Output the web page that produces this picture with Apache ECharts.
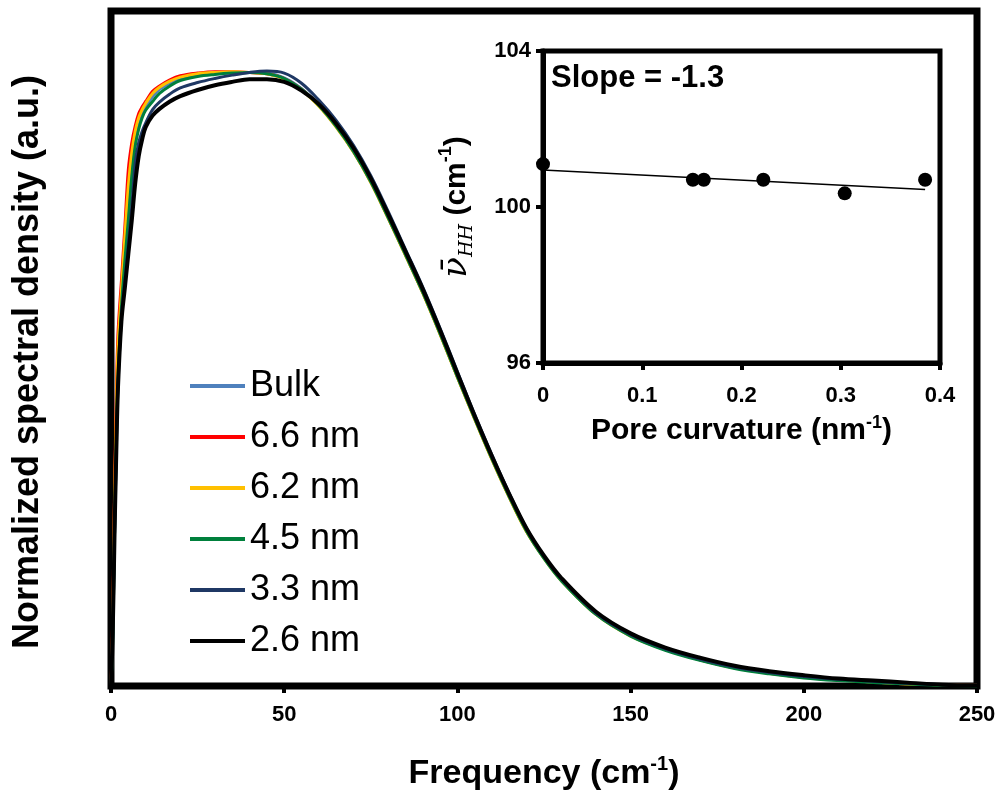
<!DOCTYPE html>
<html>
<head>
<meta charset="utf-8">
<title>Spectral density vs frequency</title>
<script src="https://cdn.jsdelivr.net/npm/echarts@6/dist/echarts.min.js"></script>
<style>
  html, body { margin: 0; padding: 0; background: #fff; }
  #chart { width: 1001px; height: 796px; }
</style>
</head>
<body>
<div id="chart"></div>
<script>
// Frequency grid (cm^-1) shared by all spectra
const FREQ = [0, 0.5, 1, 1.5, 2, 3, 4, 5, 6, 7, 8, 9, 10, 12, 14, 17, 20, 25, 30, 35, 40, 45, 50, 55, 60, 65, 70, 75, 80, 85, 90, 95, 100, 105, 110, 115, 120, 125, 130, 140, 150, 160, 170, 180, 190, 200, 210, 220, 230, 240, 250];

// Normalized spectral density for each system
const BULK = [0, 0.08, 0.25, 0.38, 0.48, 0.575, 0.65, 0.72, 0.775, 0.812, 0.835, 0.848, 0.858, 0.873, 0.884, 0.893, 0.900, 0.906, 0.908, 0.909, 0.909, 0.908, 0.901, 0.885, 0.861, 0.830, 0.793, 0.748, 0.695, 0.640, 0.584, 0.523, 0.459, 0.397, 0.337, 0.281, 0.230, 0.190, 0.157, 0.107, 0.075, 0.054, 0.039, 0.028, 0.020, 0.014, 0.010, 0.007, 0.004, 0.002, 0.001];
const NM66 = [0, 0.10, 0.28, 0.42, 0.52, 0.60, 0.68, 0.765, 0.805, 0.83, 0.848, 0.858, 0.866, 0.881, 0.889, 0.898, 0.904, 0.908, 0.910, 0.910, 0.909, 0.907, 0.900, 0.884, 0.860, 0.829, 0.792, 0.747, 0.694, 0.639, 0.583, 0.522, 0.458, 0.396, 0.336, 0.280, 0.229, 0.190, 0.157, 0.107, 0.075, 0.054, 0.039, 0.027, 0.019, 0.013, 0.009, 0.006, 0.003, 0.002, 0.001];
const NM62 = [0, 0.09, 0.27, 0.40, 0.50, 0.585, 0.665, 0.74, 0.79, 0.822, 0.842, 0.854, 0.863, 0.878, 0.887, 0.896, 0.902, 0.907, 0.909, 0.910, 0.909, 0.907, 0.899, 0.883, 0.859, 0.828, 0.791, 0.746, 0.693, 0.638, 0.582, 0.521, 0.457, 0.395, 0.335, 0.279, 0.228, 0.189, 0.156, 0.106, 0.074, 0.054, 0.039, 0.027, 0.019, 0.013, 0.009, 0.006, 0.003, 0.002, 0.001];
const NM45 = [0, 0.07, 0.22, 0.35, 0.45, 0.56, 0.63, 0.69, 0.755, 0.80, 0.825, 0.842, 0.853, 0.866, 0.878, 0.889, 0.897, 0.903, 0.906, 0.908, 0.909, 0.907, 0.900, 0.884, 0.860, 0.829, 0.792, 0.747, 0.694, 0.639, 0.583, 0.522, 0.458, 0.396, 0.336, 0.280, 0.229, 0.189, 0.156, 0.106, 0.074, 0.053, 0.038, 0.026, 0.018, 0.012, 0.008, 0.005, 0.003, 0.001, 0];
const NM33 = [0, 0.08, 0.22, 0.34, 0.44, 0.545, 0.60, 0.655, 0.71, 0.775, 0.805, 0.822, 0.834, 0.854, 0.865, 0.877, 0.886, 0.894, 0.900, 0.905, 0.909, 0.911, 0.908, 0.893, 0.868, 0.838, 0.801, 0.756, 0.703, 0.647, 0.591, 0.530, 0.466, 0.402, 0.342, 0.285, 0.233, 0.192, 0.159, 0.108, 0.076, 0.055, 0.040, 0.028, 0.020, 0.014, 0.010, 0.007, 0.004, 0.002, 0.001];
const NM26 = [0, 0.08, 0.22, 0.34, 0.44, 0.54, 0.59, 0.64, 0.69, 0.745, 0.785, 0.81, 0.828, 0.845, 0.855, 0.866, 0.874, 0.883, 0.890, 0.895, 0.899, 0.899, 0.895, 0.882, 0.862, 0.833, 0.797, 0.752, 0.699, 0.644, 0.588, 0.527, 0.463, 0.400, 0.340, 0.284, 0.233, 0.193, 0.160, 0.110, 0.078, 0.057, 0.042, 0.030, 0.022, 0.016, 0.011, 0.008, 0.005, 0.002, 0.001];

const SERIES_NAMES = ['Bulk', '6.6 nm', '6.2 nm', '4.5 nm', '3.3 nm', '2.6 nm'];
const SERIES_VALUES = [BULK, NM66, NM62, NM45, NM33, NM26];
const SERIES_COLORS = ['#4F81BD', '#FF0000', '#FFC000', '#00803C', '#1F3864', '#000000'];
const SERIES_WIDTHS = [3, 3, 3, 3, 3, 4];

// Inset: mean H-H frequency against pore curvature
const CURVATURE = [0, 0.151, 0.162, 0.222, 0.304, 0.385];
const NU_HH = [101.1, 100.7, 100.7, 100.7, 100.35, 100.7];
const FIT_SLOPE = -1.3;
const FIT_INTERCEPT = 100.95;

const X_TICKS = [0, 50, 100, 150, 200, 250];
const INSET_Y_TICKS = [96, 100, 104];

const FONT = '"Liberation Sans", Arial, Helvetica, sans-serif';
const SERIF = '"DejaVu Serif", "Liberation Serif", serif';

const zip = (xs, ys) => xs.map((x, i) => [x, ys[i]]);

const spectra = SERIES_NAMES.map((name, i) => ({
  name: name,
  type: 'line',
  xAxisIndex: 0,
  yAxisIndex: 0,
  data: zip(FREQ, SERIES_VALUES[i]),
  showSymbol: false,
  symbol: 'none',
  smooth: 0.35,
  color: SERIES_COLORS[i],
  lineStyle: { color: SERIES_COLORS[i], width: SERIES_WIDTHS[i] },
  z: 3 + i
}));

const fitEnd = Math.max.apply(null, CURVATURE);
const inset = [
  {
    name: 'fit',
    type: 'line',
    xAxisIndex: 1,
    yAxisIndex: 1,
    data: [[0, FIT_INTERCEPT], [fitEnd, FIT_INTERCEPT + FIT_SLOPE * fitEnd]],
    symbol: 'none',
    lineStyle: { color: '#000', width: 1.5 },
    z: 20
  },
  {
    name: 'points',
    type: 'scatter',
    xAxisIndex: 1,
    yAxisIndex: 1,
    data: zip(CURVATURE, NU_HH),
    symbol: 'circle',
    symbolSize: 14,
    itemStyle: { color: '#000', opacity: 1 },
    clip: false,
    z: 21
  }
];

const boldText = { fontFamily: FONT, fontWeight: 'bold', color: '#000' };

const chart = echarts.init(document.getElementById('chart'), null, { renderer: 'canvas' });
chart.setOption({
  animation: false,
  backgroundColor: '#fff',
  grid: [
    { left: 111, right: 24, top: 11, bottom: 107, show: true, borderColor: '#000', borderWidth: 7, backgroundColor: 'transparent' },
    { left: 543, right: 61, top: 51, bottom: 433, show: true, borderColor: '#000', borderWidth: 5, backgroundColor: 'transparent' }
  ],
  legend: {
    data: SERIES_NAMES,
    orient: 'vertical',
    left: 190,
    top: 366,
    padding: 0,
    itemWidth: 55,
    itemHeight: 4,
    itemGap: 11,
    icon: 'rect',
    selectedMode: false,
    textStyle: { fontFamily: FONT, fontSize: 36, color: '#000', lineHeight: 40 }
  },
  xAxis: [
    {
      gridIndex: 0,
      type: 'value',
      min: X_TICKS[0],
      max: X_TICKS[X_TICKS.length - 1],
      interval: X_TICKS[1] - X_TICKS[0],
      axisLine: { show: false },
      axisTick: { show: true, length: 7, lineStyle: { color: '#000', width: 4 } },
      splitLine: { show: false },
      axisLabel: Object.assign({ margin: 18, fontSize: 22 }, boldText),
      name: '{t|Frequency (cm}{s|-1}{t|)}',
      nameLocation: 'middle',
      nameGap: 68,
      nameTextStyle: {
        rich: {
          t: Object.assign({ fontSize: 34, lineHeight: 40 }, boldText),
          s: Object.assign({ fontSize: 20, verticalAlign: 'top' }, boldText)
        }
      }
    },
    {
      gridIndex: 1,
      type: 'value',
      min: 0,
      max: 0.4,
      interval: 0.1,
      axisLine: { show: true, lineStyle: { color: '#000', width: 5 } },
      axisTick: { show: true, length: 7, lineStyle: { color: '#000', width: 4 } },
      splitLine: { show: false },
      axisLabel: Object.assign({ margin: 22, fontSize: 22 }, boldText),
      name: '{t|Pore curvature (nm}{s|-1}{t|)}',
      nameLocation: 'middle',
      nameGap: 51,
      nameTextStyle: {
        rich: {
          t: Object.assign({ fontSize: 30, lineHeight: 34 }, boldText),
          s: Object.assign({ fontSize: 18, verticalAlign: 'top' }, boldText)
        }
      }
    }
  ],
  yAxis: [
    {
      gridIndex: 0,
      type: 'value',
      min: 0,
      max: 1,
      axisLine: { show: false },
      axisTick: { show: false },
      axisLabel: { show: false },
      splitLine: { show: false }
    },
    {
      gridIndex: 1,
      type: 'value',
      min: INSET_Y_TICKS[0],
      max: INSET_Y_TICKS[INSET_Y_TICKS.length - 1],
      interval: INSET_Y_TICKS[1] - INSET_Y_TICKS[0],
      axisLine: { show: true, lineStyle: { color: '#000', width: 5 } },
      axisTick: { show: true, length: 7, lineStyle: { color: '#000', width: 4 } },
      splitLine: { show: false },
      axisLabel: Object.assign({ margin: 12, fontSize: 22 }, boldText),
      name: '{v|\u03BD\u0304}{h|HH}{t| (cm}{s|-1}{t|)}',
      nameLocation: 'middle',
      nameGap: 66,
      nameTextStyle: {
        rich: {
          v: { fontFamily: SERIF, fontStyle: 'italic', fontSize: 34, color: '#000', lineHeight: 40 },
          h: { fontFamily: SERIF, fontStyle: 'italic', fontSize: 19, color: '#000', verticalAlign: 'bottom' },
          t: Object.assign({ fontSize: 30, lineHeight: 40 }, boldText),
          s: Object.assign({ fontSize: 18, verticalAlign: 'top' }, boldText)
        }
      }
    }
  ],
  graphic: [
    {
      // main vertical axis title
      type: 'text',
      x: 28,
      y: 362,
      rotation: Math.PI / 2,
      z: 30,
      style: {
        text: 'Normalized spectral density (a.u.)',
        font: 'bold 36px ' + FONT,
        fill: '#000',
        align: 'center',
        verticalAlign: 'middle'
      }
    },
    {
      type: 'text',
      left: 551,
      top: 63,
      z: 30,
      style: { text: 'Slope = ' + FIT_SLOPE.toFixed(1), font: 'bold 31px ' + FONT, fill: '#000' }
    }
  ],
  series: spectra.concat(inset)
});
</script>
</body>
</html>
